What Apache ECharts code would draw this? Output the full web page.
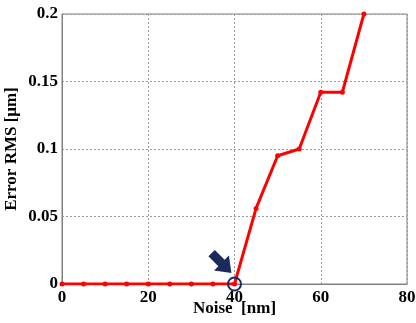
<!DOCTYPE html>
<html>
<head>
<meta charset="utf-8">
<script src="https://cdn.jsdelivr.net/npm/echarts@6/dist/echarts.min.js"></script>
<style>html,body{margin:0;padding:0;background:#fff;}#c{width:416px;height:323px;}</style>
</head>
<body>
<div id="c"></div>
<script>
var noise = [0, 5, 10, 15, 20, 25, 30, 35, 40, 45, 50, 55, 60, 65, 70];
var errorRms = [0, 0, 0, 0, 0, 0, 0, 0, 0, 0.056, 0.095, 0.1, 0.142, 0.142, 0.2];
var xTicks = [0, 20, 40, 60, 80];
var yTicks = [0, 0.05, 0.1, 0.15, 0.2];
var markedPoint = [40, 0];

var font = '"Liberation Serif", "Times New Roman", serif';
var chart = echarts.init(document.getElementById('c'));
var data = noise.map(function (x, i) { return [x, errorRms[i]]; });
var axisCommon = {
  axisLine: { show: true, lineStyle: { color: '#808080', width: 1 } },
  axisTick: { show: false },
  splitLine: { show: true, lineStyle: { color: '#9a9a9a', type: [2, 2], width: 1 } },
  axisLabel: { color: '#000', fontFamily: font, fontWeight: 'bold', fontSize: 17 },
  nameTextStyle: { color: '#000', fontFamily: font, fontWeight: 'bold', fontSize: 17 },
  nameMoveOverlap: false
};
chart.setOption({
  animation: false,
  grid: { left: 62, right: 9, top: 14, bottom: 39, show: true, borderColor: '#808080', borderWidth: 1,
          containLabel: false, outerBoundsMode: 'none' },
  xAxis: Object.assign({}, axisCommon, {
    type: 'value', min: xTicks[0], max: xTicks[xTicks.length - 1], interval: 20,
    name: 'Noise  [nm]', nameLocation: 'middle', nameGap: 16,
    axisLabel: Object.assign({}, axisCommon.axisLabel, { margin: 5 })
  }),
  yAxis: Object.assign({}, axisCommon, {
    type: 'value', min: yTicks[0], max: yTicks[yTicks.length - 1], interval: 0.05,
    name: 'Error RMS [\u03bcm]', nameLocation: 'middle', nameGap: 42,
    axisLabel: Object.assign({}, axisCommon.axisLabel, { margin: 4 })
  }),
  series: [{
    type: 'line',
    data: data,
    symbol: 'circle',
    symbolSize: 5,
    itemStyle: { color: '#ff0000' },
    lineStyle: { color: '#ff0000', width: 3 },
    markPoint: {
      silent: true,
      label: { show: false },
      data: [
        { coord: markedPoint, symbol: 'circle', symbolSize: 13,
          itemStyle: { color: 'rgba(0,0,0,0)', borderColor: '#1a2b5c', borderWidth: 2 } },
        { coord: markedPoint, symbol: 'path://M5,0 L14,0 L14,13 L20,13 L9.5,26 L-1,13 L5,13 Z',
          symbolSize: [21, 28], symbolRotate: 45, symbolOffset: [-13, -21],
          itemStyle: { color: '#1a2b5c' } }
      ]
    }
  }]
});
</script>
</body>
</html>
